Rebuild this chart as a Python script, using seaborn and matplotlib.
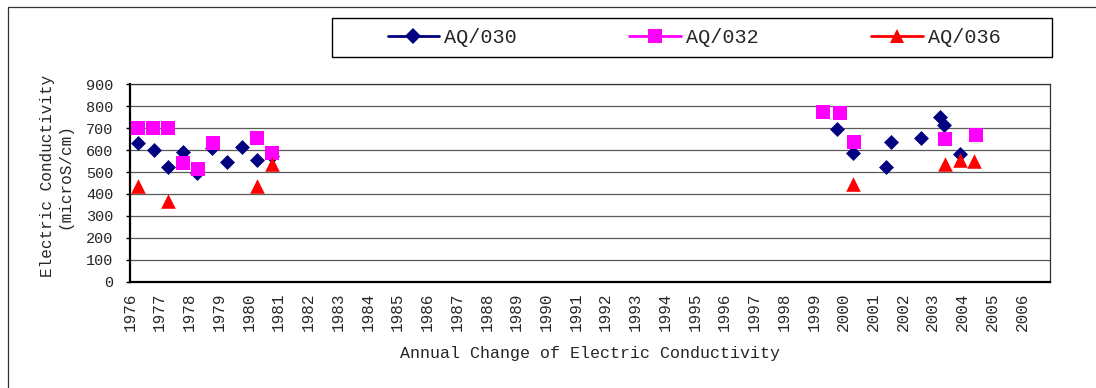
import matplotlib
matplotlib.use("Agg")
import matplotlib.pyplot as plt
from matplotlib.lines import Line2D
from matplotlib.patches import Rectangle
import seaborn as sns
import pandas as pd

# Sampling dates (decimal years) and electric conductivity readings per well
years_030 = [1976.26, 1976.80, 1977.27, 1977.77, 1978.27, 1978.77, 1979.27, 1979.76,
             1980.26, 1980.77, 1999.77, 2000.33, 2001.42, 2001.58, 2002.59, 2003.24,
             2003.39, 2003.92]
ec_030 = [631, 600, 524, 590, 495, 608, 544, 616, 555, 575, 695, 588, 522, 638, 657,
          752, 715, 582]

years_032 = [1976.26, 1976.77, 1977.27, 1977.77, 1978.28, 1978.80, 1980.28, 1980.77,
             1999.29, 1999.88, 2000.36, 2003.41, 2004.45]
ec_032 = [700, 700, 700, 540, 512, 631, 654, 588, 772, 769, 638, 651, 669]

years_036 = [1976.26, 1977.27, 1980.26, 1980.77, 2000.33, 2003.41, 2003.92, 2004.40]
ec_036 = [436, 369, 436, 535, 444, 535, 555, 550]

stations = ["AQ/030", "AQ/032", "AQ/036"]
year_ticks = list(range(1976, 2007))
ec_ticks = list(range(0, 901, 100))

colors = {"AQ/030": "#000080", "AQ/032": "#FF00FF", "AQ/036": "#FF0000"}
markers = {"AQ/030": "D", "AQ/032": "s", "AQ/036": "^"}
marker_area = {"AQ/030": 58, "AQ/032": 110, "AQ/036": 110}
legend_ms = {"AQ/030": 8, "AQ/032": 10.5, "AQ/036": 10.5}

frames = []
for name, yrs, vals in [("AQ/030", years_030, ec_030),
                        ("AQ/032", years_032, ec_032),
                        ("AQ/036", years_036, ec_036)]:
    frames.append(pd.DataFrame({"year": yrs, "ec": vals, "station": name}))
df = pd.concat(frames, ignore_index=True)

sns.set_style("white")
plt.rcParams["font.family"] = ["Liberation Mono", "DejaVu Sans"]

fig = plt.figure(figsize=(10.96, 3.88), dpi=100)
ax = fig.add_axes([130 / 1096, 1 - 281.7 / 388, 920 / 1096, 197.4 / 388])

for name in stations:
    sns.scatterplot(data=df[df["station"] == name], x="year", y="ec",
                    color=colors[name], marker=markers[name], s=marker_area[name],
                    linewidth=0, ax=ax, legend=False, zorder=3)

ax.set_xlim(1976, 2006.94)
ax.set_ylim(0, 900)
ax.set_xticks(year_ticks)
ax.set_xticklabels([str(y) for y in year_ticks], rotation=90, fontsize=11.5)
ax.set_yticks(ec_ticks)
ax.set_yticklabels([str(v) for v in ec_ticks], fontsize=11)
ax.tick_params(axis="x", length=0, pad=8)
ax.tick_params(axis="y", length=3, width=1, direction="out", pad=9, color="black", left=True)

ax.yaxis.grid(True, color="#5a5a5a", linewidth=0.9)
ax.xaxis.grid(False)
ax.set_axisbelow(True)

for side in ["left", "bottom"]:
    ax.spines[side].set_linewidth(1.6)
    ax.spines[side].set_color("black")
for side in ["top", "right"]:
    ax.spines[side].set_linewidth(0.9)
    ax.spines[side].set_color("#333333")

ax.set_xlabel("Annual Change of Electric Conductivity", fontsize=12, va="center")
ax.xaxis.set_label_coords(0.5, -0.366)
ax.set_ylabel("Electric Conductivity\n(microS/cm)", fontsize=11.5, va="center",
              ha="center", linespacing=1.25)
ax.yaxis.set_label_coords(-0.0804, 0.535)

# Legend with line + marker samples, inside a separate rectangular box
handles = [Line2D([], [], color=colors[n], lw=2, marker=markers[n],
                  markersize=legend_ms[n], markeredgewidth=0) for n in stations]
fig.legend(handles, stations, loc="center", ncol=3, frameon=False,
           bbox_to_anchor=(694 / 1096, 1 - 37.5 / 388), fontsize=14.5,
           handlelength=2.58, handletextpad=0.22, columnspacing=5.6)
fig.patches.append(Rectangle((332 / 1096, 1 - 57 / 388), 720 / 1096, 39 / 388,
                             transform=fig.transFigure, fill=False,
                             edgecolor="black", linewidth=1.0))

# Outer chart frame (left and top edges)
fig.add_artist(Line2D([8 / 1096, 8 / 1096], [0, 1 - 7 / 388], transform=fig.transFigure,
                      color="#333333", linewidth=0.9))
fig.add_artist(Line2D([8 / 1096, 1], [1 - 7 / 388, 1 - 7 / 388], transform=fig.transFigure,
                      color="#333333", linewidth=0.9))

fig.savefig("out.png", dpi=100, facecolor="white")
